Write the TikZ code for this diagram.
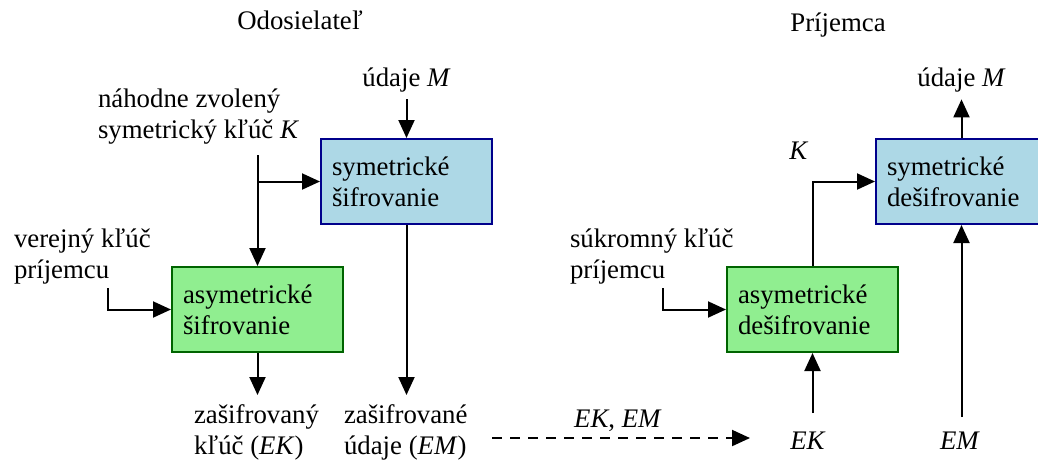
\documentclass[tikz,border=0pt]{standalone}
\usepackage{fontspec}
\setmainfont{Liberation Serif}
\usetikzlibrary{arrows.meta,positioning}
\definecolor{symfill}{RGB}{173,216,230}
\definecolor{symdraw}{RGB}{0,0,139}
\definecolor{asymfill}{RGB}{144,238,144}
\definecolor{asymdraw}{RGB}{0,100,0}

\begin{document}
\begin{tikzpicture}[x=0.5pt,y=-0.5pt,line width=1pt,
		font=\fontsize{13.4}{15.5}\selectfont,
		>={Triangle[length=9pt,width=8pt]},
		box/.style={rectangle,draw,line width=1pt,minimum height=42.5pt,
			text width=74.5pt,inner xsep=5.5pt,align=left},
		sym/.style={box,fill=symfill,draw=symdraw},
		asym/.style={box,fill=asymfill,draw=asymdraw},
		lbl/.style={align=left,anchor=west,inner sep=0pt}]
		\newcommand{\pv}[1]{\textit{#1}}
		\useasboundingbox (0,0) rectangle (1038,462);
		% odosielatel
		\node[anchor=base] (odos) at (300,29) {Odosielateľ};
		\node[sym] (sifr) at (406.5,181.5) {symetrické\\šifrovanie};
		\node[asym] (asifr) at (257.5,309.5) {asymetrické\\šifrovanie};
		\node[anchor=base] (mIn) at (406.5,86) {údaje \pv{M}};
		\node[lbl] (kluc) at (97,117) {náhodne zvolený\\symetrický kľúč \pv{K}};
		\node[lbl] (verejny) at (13,257) {verejný kľúč\\príjemcu};
		\node[lbl] (ekText) at (193,432) {zašifrovaný\\kľúč (\pv{EK})};
		\node[lbl] (emText) at (343,432) {zašifrované\\údaje (\pv{EM})};
		% prijemca
		\node[anchor=base] (prij) at (838,31) {Príjemca};
		\node[asym] (adesifr) at (812.5,309.5) {asymetrické\\dešifrovanie};
		\node[sym] (desifr) at (961.5,181.5) {symetrické\\dešifrovanie};
		\node[anchor=base] (mOut) at (961.5,86) {údaje \pv{M}};
		\node[anchor=base] (kOut) at (799,159) {\pv{K}};
		\node[lbl] (sukromny) at (569,257) {súkromný kľúč\\príjemcu};
		\node[anchor=base] (ek) at (808,449) {\pv{EK}};
		\node[anchor=base] (em) at (960,449) {\pv{EM}};
		\node[anchor=base] (ekem) at (618,427) {\pv{EK}, \pv{EM}};
		% free ends
		\coordinate (kStart) at (257.5,155);
		\coordinate (vStart) at (108,288);
		\coordinate (sStart) at (663,288);
		\coordinate (ekTip) at (257.5,395);
		\coordinate (emTip) at (406.5,395);
		\coordinate (dStart) at (492,438);
		\coordinate (dTip) at (750,438);
		\coordinate (ekFoot) at (812.5,413);
		\coordinate (emFoot) at (961.5,417);
		% spojenia
		\draw[->] (mIn) -- (sifr);
		\draw[->] (kStart) -- (asifr);
		\draw[->] (kStart |- sifr.west) -- (sifr.west);
		\draw[->] (vStart) |- (asifr.west);
		\draw[->] (asifr) -- (ekTip);
		\draw[->] (sifr) -- (emTip);
		\draw[->,dash pattern=on 5pt off 4pt] (dStart) -- (dTip);
		\draw[->] (ekFoot) -- (adesifr);
		\draw[->] (emFoot) -- (desifr);
		\draw[->] (sStart) |- (adesifr.west);
		\draw[->] (adesifr) |- (desifr.west);
		\draw[->] (desifr) -- (mOut);
\end{tikzpicture}
\end{document}
